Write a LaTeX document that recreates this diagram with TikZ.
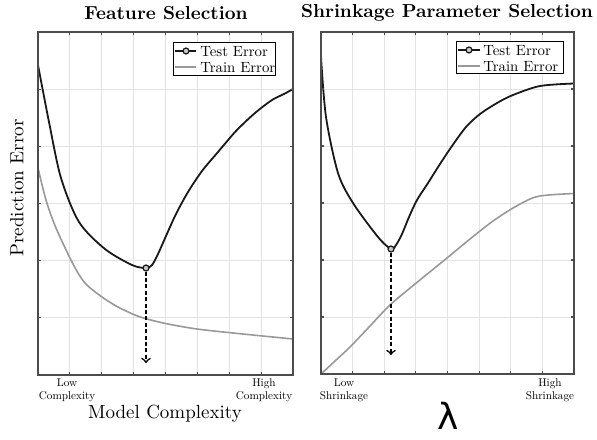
\documentclass[tikz,border=0pt]{standalone}
\usepackage{fontspec}
\setmainfont{lmroman10-regular.otf}[BoldFont=lmroman10-bold.otf,
  ItalicFont=lmroman10-italic.otf]
\newfontfamily\lamfont{DejaVu Sans}
\usetikzlibrary{arrows,positioning}

\definecolor{testcol}{gray}{0.1}
\definecolor{traincol}{gray}{0.6}
\definecolor{gridcol}{gray}{0.89}
\definecolor{framecol}{gray}{0.3}

\begin{document}
\begin{tikzpicture}[x=0.5pt,y=-0.5pt,>=to,
    testcurve/.style={testcol,line width=0.9pt},
    traincurve/.style={traincol,line width=0.8pt},
    gridline/.style={gridcol,line width=0.5pt},
    axisframe/.style={framecol,line width=0.6pt},
    optmark/.style={circle,draw=testcol,fill=gray!45,line width=0.6pt,
                    inner sep=0pt,minimum size=3pt},
    optarrow/.style={->,black,line width=0.8pt,dash pattern=on 2pt off 1.2pt},
    legbox/.style={draw=black,fill=white,line width=0.5pt},
    legtxt/.style={font=\fontsize{7.4}{8}\selectfont,inner sep=0pt,
                   text height=5pt,text depth=0pt},
    ticklab/.style={font=\fontsize{5.6}{6.6}\selectfont,align=center,inner sep=0pt},
    paneltitle/.style={font=\fontsize{9.4}{11}\selectfont\bfseries},
    axislab/.style={font=\fontsize{9.5}{11}\selectfont}]

  \useasboundingbox (0,0) rectangle (597,439);

  % grids of both panels
  \foreach \xa/\xb/\ya/\yb in {38/293/32/375, 321/574/32/374} {
    \foreach \i in {1,...,7}
      \draw[gridline] ({\xa+\i*(\xb-\xa)/8},\ya) -- ({\xa+\i*(\xb-\xa)/8},\yb);
    \foreach \j in {1,...,5}
      \draw[gridline] (\xa,{\ya+\j*(\yb-\ya)/6}) -- (\xb,{\ya+\j*(\yb-\ya)/6});
  }

  % feature selection
  \draw[traincurve] plot[smooth,tension=0.5] coordinates {
    (38,168) (46,200) (56,228) (73,264) (85,283) (102,297)
    (118,307) (135,315) (147,319) (168,324) (197,329) (233,333) (293,339)};
  \draw[testcurve] plot[smooth,tension=0.5] coordinates {
    (38,65) (49,122) (61,178) (79,222) (105,249) (132,265) (146,268)
    (152,265) (158,254) (166,236) (176,214) (188,192) (202,171) (218,152)
    (236,131) (255,113) (272,100) (284,94) (293,89)};

  % shrinkage parameter selection
  \draw[traincurve] plot[smooth,tension=0.5] coordinates {
    (321,374) (335,361) (350,347) (370,326) (390,305) (415,284) (447,258)
    (470,239) (493,221) (513,208) (530,199) (540,196) (555,194.5) (574,193.5)};
  \draw[testcurve] plot[smooth,tension=0.5] coordinates {
    (321,57) (326,117) (338,173) (353,203) (378,237) (391,249)
    (396,245) (402,234) (409,217) (417,200) (428,183) (440,164) (452,146)
    (466,127) (480,114) (497,103) (513,95) (540,86) (574,83.5)};

  % frames and ticks
  \foreach \xa/\xb/\ya/\yb in {38/293/32/375, 321/574/32/374} {
    \foreach \i in {1,...,7} {
      \draw[axisframe] ({\xa+\i*(\xb-\xa)/8},\yb) -- ++(0,-3);
      \draw[axisframe] ({\xa+\i*(\xb-\xa)/8},\ya) -- ++(0,3);
    }
    \foreach \j in {1,...,5} {
      \draw[axisframe] (\xa,{\ya+\j*(\yb-\ya)/6}) -- ++(3,0);
      \draw[axisframe] (\xb,{\ya+\j*(\yb-\ya)/6}) -- ++(-3,0);
    }
    \draw[axisframe] (\xa,\ya) rectangle (\xb,\yb);
  }

  % optimum markers
  \node[optmark] (optL) at (146,268) {};
  \coordinate (tipL) at (146,363);
  \draw[optarrow] (optL) -- (tipL);

  \node[optmark] (optR) at (391,249) {};
  \coordinate (tipR) at (391,355);
  \draw[optarrow] (optR) -- (tipR);

  % legends
  \draw[legbox] (173,42) rectangle (275,75);
  \node[legtxt,anchor=west] (tstL) at (200,51) {Test Error};
  \node[legtxt,below=3pt of tstL.south west,anchor=north west] (trnL) {Train Error};
  \draw[testcurve] (175,51) -- (196,51);
  \node[optmark] (legmkL) at (186,51) {};
  \draw[traincurve] (175,67) -- (196,67);

  \draw[legbox] (456,41) rectangle (563,73);
  \node[legtxt,anchor=west] (tstR) at (483,50) {Test Error};
  \node[legtxt,below=3pt of tstR.south west,anchor=north west] (trnR) {Train Error};
  \draw[testcurve] (458,50) -- (480,50);
  \node[optmark] (legmkR) at (469,50) {};
  \draw[traincurve] (458,66) -- (480,66);

  % titles and axis labels
  \node[paneltitle] (ttlL) at (166,13) {Feature Selection};
  \node[paneltitle] (ttlR) at (447,13) {Shrinkage Parameter Selection};
  \node[axislab,rotate=90] (ylab) at (17,188) {Prediction Error};
  \node[axislab] (xlabL) at (165,414) {Model Complexity};
  \node[font=\fontsize{18}{18}\selectfont\lamfont,inner sep=0pt]
    (xlabR) at (448,416) {λ};

  \node[ticklab] (loL) at (67,390) {Low\\Complexity};
  \node[ticklab] (hiL) at (264,390) {High\\Complexity};
  \node[ticklab] (loR) at (344,390) {Low\\Shrinkage};
  \node[ticklab] (hiR) at (550,390) {High\\Shrinkage};
\end{tikzpicture}
\end{document}
